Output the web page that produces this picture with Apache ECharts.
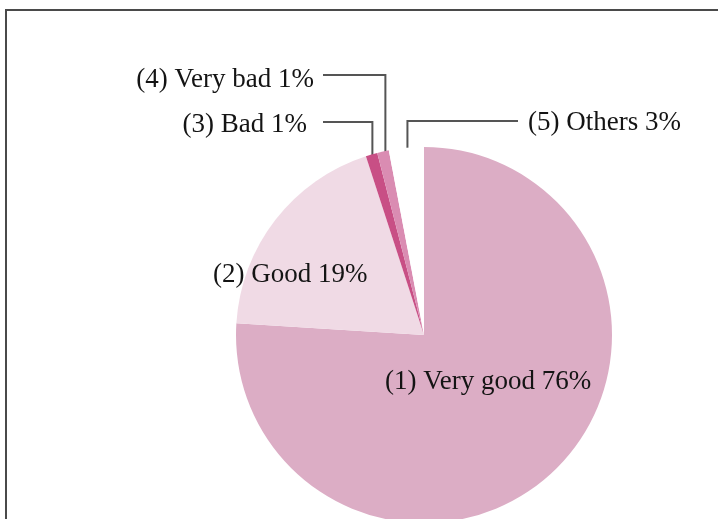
<!DOCTYPE html>
<html>
<head>
<meta charset="utf-8">
<script src="https://cdn.jsdelivr.net/npm/echarts@6/dist/echarts.min.js"></script>
<style>
  html, body { margin: 0; padding: 0; background: #ffffff; }
  #chart { width: 718px; height: 519px; }
</style>
</head>
<body>
<div id="chart"></div>
<script>
// Survey answers and their shares (percent)
const categories = ['(1) Very good', '(2) Good', '(3) Bad', '(4) Very bad', '(5) Others'];
const shares = [76, 19, 1, 1, 3];

// Slice fills, in the same order as the categories
const sliceColors = ['#dcadc5', '#f0dae5', '#c84f85', '#da8cb2', '#ffffff'];

// Pie geometry
const CX = 424, CY = 335, R = 188;

// Where each label sits; outer labels also get an elbow leader line
const labelSpots = [
  { x: 385, y: 382, align: 'left' },
  { x: 213, y: 275, align: 'left' },
  { x: 307, y: 125, align: 'right', elbowY: 122, lineEndX: 323, lineR: 185 },
  { x: 314, y: 80,  align: 'right', elbowY: 75,  lineEndX: 323, lineR: 177 },
  { x: 528, y: 123, align: 'left',  elbowY: 121, lineEndX: 518, lineR: 176 }
];

// Mid angle of each slice, clockwise from 12 o'clock, in radians
const total = shares.reduce((a, b) => a + b, 0);
const midAngles = [];
(function () {
  let acc = 0;
  shares.forEach(v => {
    midAngles.push(((acc + v / 2) / total) * Math.PI * 2);
    acc += v;
  });
})();

const seriesData = categories.map((name, i) => {
  const outer = labelSpots[i].elbowY != null;
  return {
    name: name,
    value: shares[i],
    itemStyle: { color: sliceColors[i] },
    label: { position: outer ? 'outside' : 'inside' },
    labelLine: { show: outer }
  };
});

const chart = echarts.init(document.getElementById('chart'), null, { renderer: 'canvas' });

chart.setOption({
  backgroundColor: '#ffffff',
  animation: false,
  graphic: [
    {
      type: 'rect',
      silent: true,
      z: 10,
      shape: { x: 6, y: 10, width: 800, height: 600 },
      style: { fill: null, stroke: '#4a4a4a', lineWidth: 2 }
    }
  ],
  series: [
    {
      type: 'pie',
      center: [CX, CY],
      radius: R,
      startAngle: 90,
      clockwise: true,
      avoidLabelOverlap: false,
      emphasis: { disabled: true },
      itemStyle: { borderWidth: 0 },
      label: {
        show: true,
        formatter: p => p.name + ' ' + p.value + '%',
        fontFamily: '"Liberation Serif", "Times New Roman", serif',
        fontSize: 27,
        color: '#141414'
      },
      labelLine: {
        lineStyle: { color: '#555555', width: 2 }
      },
      labelLayout: function (params) {
        const i = params.dataIndex;
        const spot = labelSpots[i];
        const out = { x: spot.x, y: spot.y, align: spot.align, verticalAlign: 'middle' };
        if (spot.elbowY != null) {
          const a = midAngles[i];
          const sx = CX + spot.lineR * Math.sin(a);
          const sy = CY - spot.lineR * Math.cos(a);
          out.labelLinePoints = [
            [sx, sy],
            [sx, spot.elbowY],
            [spot.lineEndX, spot.elbowY]
          ];
        }
        return out;
      },
      data: seriesData
    }
  ]
});
</script>
</body>
</html>
